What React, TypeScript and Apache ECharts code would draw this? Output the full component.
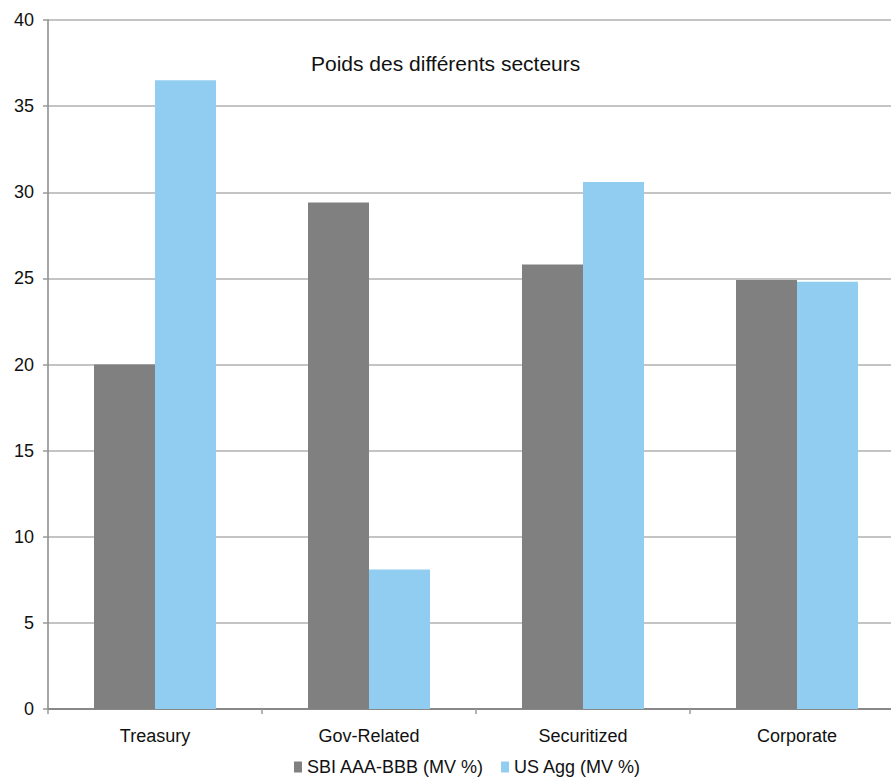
import React, { useEffect, useRef } from "react";
import * as echarts from "echarts";

const categories = ["Treasury", "Gov-Related", "Securitized", "Corporate"];
const sbiValues = [20.0, 29.4, 25.8, 24.9];
const usAggValues = [36.5, 8.1, 30.6, 24.8];
const seriesNames = ["SBI AAA-BBB (MV %)", "US Agg (MV %)"];
const titleText = "Poids des différents secteurs";

const FONT = "'Liberation Sans', Arial, sans-serif";

export default function App() {
  const ref = useRef<HTMLDivElement>(null);
  useEffect(() => {
    if (!ref.current) return;
    const chart = echarts.init(ref.current, null, { renderer: "svg" });
    chart.setOption({
      animation: false,
      backgroundColor: "#ffffff",
      textStyle: { fontFamily: FONT },
      title: {
        text: titleText,
        left: 306,
        top: 48,
        textStyle: { fontFamily: FONT, fontSize: 21, fontWeight: "normal", color: "#111" },
      },
      legend: {
        left: 289,
        top: 753,
        itemWidth: 8,
        itemHeight: 11,
        itemGap: 17,
        icon: "rect",
        textStyle: { fontFamily: FONT, fontSize: 18, color: "#111" },
        data: seriesNames,
      },
      grid: { left: 48, top: 20, right: 0, bottom: 72, containLabel: false },
      xAxis: {
        type: "category",
        data: categories,
        axisLine: { show: true, lineStyle: { color: "#888", width: 2 } },
        axisTick: { show: true, length: 5, lineStyle: { color: "#999", width: 1.5 } },
        axisLabel: { fontFamily: FONT, fontSize: 18, color: "#111", margin: 18 },
        splitLine: { show: false },
      },
      yAxis: {
        type: "value",
        min: 0,
        max: 40,
        interval: 5,
        axisLine: { show: true, lineStyle: { color: "#888", width: 1.5 } },
        axisTick: { show: true, length: 5, lineStyle: { color: "#999", width: 1.5 } },
        axisLabel: { fontFamily: FONT, fontSize: 18, color: "#111", margin: 14 },
        splitLine: { show: true, lineStyle: { color: "#b0b0b0", width: 1.5 } },
      },
      series: [
        {
          name: seriesNames[0],
          type: "bar",
          data: sbiValues,
          barWidth: 61,
          barGap: "0%",
          itemStyle: { color: "#808080" },
        },
        {
          name: seriesNames[1],
          type: "bar",
          data: usAggValues,
          barWidth: 61,
          barGap: "0%",
          itemStyle: { color: "#91CDF0" },
        },
      ],
    });
    return () => chart.dispose();
  }, []);
  return (
    <div style={{ position: "fixed", left: 0, top: 0, width: 891, height: 781, overflow: "hidden", background: "#fff" }}>
      <div ref={ref} style={{ position: "absolute", left: 0, top: 0, width: 904, height: 781 }} />
    </div>
  );
}
